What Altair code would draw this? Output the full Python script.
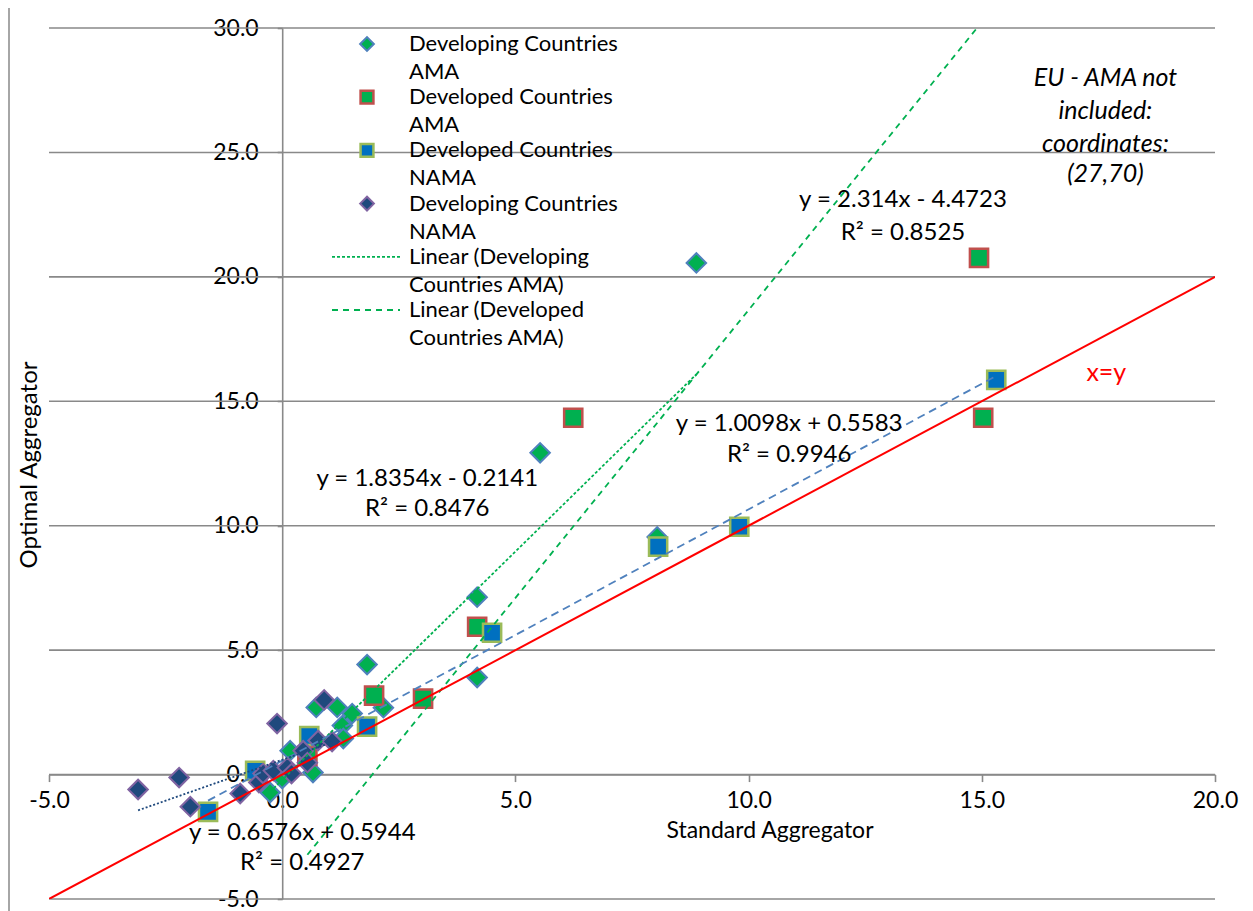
import altair as alt
import pandas as pd

# ---------------- data ----------------
dev_ama_x = [8.88, 5.53, 8.04, 4.18, 4.18, 2.17, 1.82, 1.50, 1.18, 0.73, 1.29, 1.31, 0.17, 0.66, 0.00, -0.26]
dev_ama_y = [20.56, 12.93, 9.55, 7.13, 3.90, 2.69, 4.42, 2.45, 2.70, 2.70, 1.97, 1.45, 0.96, 0.08, -0.16, -0.72]

dvd_ama_x = [0.54, 1.97, 3.02, 4.18, 6.24, 14.94, 15.03]
dvd_ama_y = [0.75, 3.17, 3.05, 5.94, 14.34, 20.76, 14.34]

dvd_nama_x = [-1.59, -0.58, 0.58, 1.82, 4.50, 8.06, 9.80, 15.31]
dvd_nama_y = [-1.50, 0.15, 1.55, 1.93, 5.70, 9.16, 9.96, 15.86]

dev_nama_x = [-3.09, -2.21, -1.97, -0.90, -0.11, -0.50, -0.41, -0.19, 0.11, 0.20, 0.45, 0.54, 0.77, 1.07, 0.90]
dev_nama_y = [-0.60, -0.12, -1.29, -0.76, 2.05, -0.32, 0.04, 0.16, 0.28, 0.04, 0.96, 0.48, 1.37, 1.33, 3.00]

# trendlines as printed on the chart: slope, intercept, x range
trend_slope = [1.8354, 2.314, 1.0098, 0.6576, 1.0]
trend_icpt = [-0.2141, -4.4723, 0.5583, 0.5944, 0.0]
trend_x0 = [-0.26, 0.54, -1.59, -3.09, -5.0]
trend_x1 = [8.88, 27.0, 15.31, 1.07, 20.0]

x_ticks = [-5, 0, 5, 10, 15, 20]
y_ticks = [-5, 0, 5, 10, 15, 20, 25, 30]

eq_text = ["y = 1.8354x - 0.2141", "R² = 0.8476",
           "y = 2.314x - 4.4723", "R² = 0.8525",
           "y = 1.0098x + 0.5583", "R² = 0.9946",
           "y = 0.6576x + 0.5944", "R² = 0.4927"]
eq_x = [3.11, 3.11, 13.31, 13.31, 10.87, 10.87, 0.43, 0.43]
eq_y = [11.89, 10.68, 23.09, 21.77, 14.1, 12.85, -2.33, -3.57]

note_text = ["EU - AMA not", "included:", "coordinates:", "(27,70)"]
note_x = [17.65, 17.65, 17.65, 17.65]
note_y = [27.99, 26.67, 25.34, 24.14]

xy_text = ["x=y"]
xy_x = [17.67]
xy_y = [16.14]

legend_labels = ["Developing Countries\nAMA", "Developed Countries\nAMA",
                 "Developed Countries\nNAMA", "Developing Countries\nNAMA",
                 "Linear (Developing\nCountries AMA)", "Linear (Developed\nCountries AMA)"]

# ---------------- styles ----------------
W, H = 1166, 871
XMIN, XMAX, YMIN, YMAX = -5, 20, -5, 30
FONT = "Lato"
GRID = "#898989"

xs = alt.Scale(domain=[XMIN, XMAX], nice=False, zero=False)
ys = alt.Scale(domain=[YMIN, YMAX], nice=False, zero=False)

x_off = -H * (0 - YMIN) / (YMAX - YMIN)
y_off = -W * (0 - XMIN) / (XMAX - XMIN)

LABEL_EXPR = "datum.value < 0 ? '-' + format(-datum.value, '.1f') : format(datum.value, '.1f')"

x_axis = alt.Axis(values=x_ticks, labelExpr=LABEL_EXPR, offset=x_off, grid=False,
                  domainColor=GRID, domainWidth=1.6, tickColor=GRID, tickWidth=1.6,
                  tickSize=7, labelFont=FONT, labelFontSize=23, labelColor="black",
                  labelPadding=8, labelFlush=False, labelOverlap=False, title=None)
y_axis = alt.Axis(values=y_ticks, labelExpr=LABEL_EXPR, offset=y_off, grid=False,
                  domainColor=GRID, domainWidth=1.6, tickColor=GRID, tickWidth=1.6,
                  tickSize=5, labelFont=FONT, labelFontSize=23, labelColor="black",
                  labelPadding=19, labelFlush=False, labelOverlap=False, title=None)

X = lambda f="x": alt.X(f"{f}:Q", scale=xs, axis=x_axis)
Y = lambda f="y": alt.Y(f"{f}:Q", scale=ys, axis=y_axis)

series = [
    (dev_ama_x, dev_ama_y, "diamond", "#00B050", "#4F81BD", 2.0, 380),
    (dvd_ama_x, dvd_ama_y, "square", "#00B050", "#C0504D", 2.5, 330),
    (dvd_nama_x, dvd_nama_y, "square", "#0070C0", "#9BBB59", 2.5, 330),
    (dev_nama_x, dev_nama_y, "diamond", "#1F497D", "#8064A2", 2.0, 380),
]
trend_style = [
    ("#00B050", [3, 2], 1.8),
    ("#00B050", [6, 5], 1.8),
    ("#4F81BD", [8, 5], 1.8),
    ("#1F497D", [2, 2], 1.8),
    ("#FF0000", [1, 0], 2.0),
]

layers = []
one = pd.DataFrame({"k": [0]})

# chart-area frame (left edge)
layers.append(
    alt.Chart(one).mark_rule(color=GRID, strokeWidth=1.5)
    .encode(x=alt.value(-40), y=alt.value(-20), y2=alt.value(H + 12))
)

# horizontal gridlines
layers.append(
    alt.Chart(pd.DataFrame({"y": y_ticks}))
    .mark_rule(color=GRID, strokeWidth=1.6)
    .encode(y=Y())
)

# scatter series
for sx, sy, shape, fill, stroke, sw, size in series:
    layers.append(
        alt.Chart(pd.DataFrame({"x": sx, "y": sy}))
        .mark_point(shape=shape, fill=fill, stroke=stroke, strokeWidth=sw,
                    size=size, opacity=1, fillOpacity=1, strokeOpacity=1)
        .encode(x=X(), y=Y())
    )

# trendlines and x=y line
for i, (color, dash, sw) in enumerate(trend_style):
    x0, x1 = trend_x0[i], trend_x1[i]
    df = pd.DataFrame({"x": [x0, x1],
                       "y": [trend_slope[i] * x0 + trend_icpt[i],
                             trend_slope[i] * x1 + trend_icpt[i]]})
    mk = dict(color=color, strokeWidth=sw, clip=True)
    if dash != [1, 0]:
        mk["strokeDash"] = dash
    layers.append(alt.Chart(df).mark_line(**mk).encode(x=X(), y=Y()))

# equation labels
layers.append(
    alt.Chart(pd.DataFrame({"x": eq_x, "y": eq_y, "t": eq_text}))
    .mark_text(font=FONT, fontSize=24, color="black", align="center", baseline="middle")
    .encode(x=X(), y=Y(), text="t:N")
)
layers.append(
    alt.Chart(pd.DataFrame({"x": note_x, "y": note_y, "t": note_text}))
    .mark_text(font=FONT, fontSize=25, fontStyle="italic", color="black",
               align="center", baseline="middle")
    .encode(x=X(), y=Y(), text="t:N")
)
layers.append(
    alt.Chart(pd.DataFrame({"x": xy_x, "y": xy_y, "t": xy_text}))
    .mark_text(font=FONT, fontSize=25, color="#FF0000", align="center", baseline="middle")
    .encode(x=X(), y=Y(), text="t:N")
)

# axis titles
layers.append(
    alt.Chart(one).mark_text(text="Standard Aggregator", font=FONT, fontSize=23,
                             color="black", align="center", baseline="middle")
    .encode(x=alt.value(721), y=alt.value(803))
)
layers.append(
    alt.Chart(one).mark_text(text="Optimal Aggregator", font=FONT, fontSize=24,
                             color="black", align="center", baseline="middle", angle=270)
    .encode(x=alt.value(-19), y=alt.value(437))
)

# legend (manual, inside plot area)
LEG_MX, LEG_TX, LEG_Y0, LEG_STEP, LEG_LH = 318, 360, 16, 53.2, 28
leg_marks = [
    ("sym", series[0]), ("sym", series[1]), ("sym", series[2]), ("sym", series[3]),
    ("line", trend_style[0]), ("line", trend_style[1]),
]
for i, (lab, (kind, st)) in enumerate(zip(legend_labels, leg_marks)):
    yc = LEG_Y0 + i * LEG_STEP
    if kind == "sym":
        _, _, shape, fill, stroke, sw, size = st
        layers.append(
            alt.Chart(one).mark_point(shape=shape, fill=fill, stroke=stroke,
                                      strokeWidth=sw, size=size * 0.5, opacity=1,
                                      fillOpacity=1)
            .encode(x=alt.value(LEG_MX), y=alt.value(yc))
        )
    else:
        color, dash, sw = st
        layers.append(
            alt.Chart(one).mark_rule(color=color, strokeDash=dash, strokeWidth=sw)
            .encode(x=alt.value(LEG_MX - 35), x2=alt.value(LEG_MX + 33), y=alt.value(yc))
        )
    for j, line in enumerate(lab.split("\n")):
        layers.append(
            alt.Chart(one).mark_text(text=line, font=FONT, fontSize=22, color="black",
                                     align="left", baseline="middle")
            .encode(x=alt.value(LEG_TX), y=alt.value(yc + j * LEG_LH))
        )

chart = (
    alt.layer(*layers)
    .properties(width=W, height=H,
                autosize=alt.AutoSizeParams(type="none"),
                padding={"left": 41, "top": 20, "right": 30, "bottom": 12},
                background="white")
    .configure_view(stroke=None)
)

chart.save("out.html", embed_options={"renderer": "svg", "actions": False})
